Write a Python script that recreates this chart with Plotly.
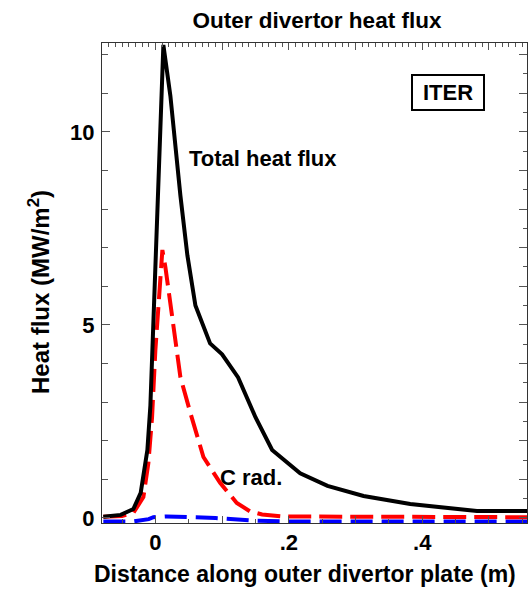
import numpy as np
import plotly.graph_objects as go

# ---- data ----
x_total = [-0.078, -0.052, -0.033, -0.022, -0.012, -0.0075, 0.012, 0.0225, 0.0375,
           0.048, 0.06, 0.082, 0.10, 0.124, 0.15, 0.175, 0.217, 0.258, 0.312,
           0.382, 0.482, 0.557]
y_total = [0.03, 0.08, 0.23, 0.65, 1.76, 2.9, 12.25, 10.93, 8.35,
           6.8, 5.5, 4.52, 4.24, 3.64, 2.61, 1.76, 1.16, 0.83, 0.57,
           0.36, 0.18, 0.18]

x_crad = [-0.078, -0.05, -0.033, -0.018, -0.0105, -0.005, 0.0, 0.005, 0.0105,
          0.015, 0.025, 0.0375, 0.0525, 0.072, 0.097, 0.122, 0.142, 0.16,
          0.19, 0.557]
y_crad = [0.03, 0.05, 0.13, 0.54, 1.42, 2.6, 4.35, 5.65, 6.94,
          6.5, 5.2, 3.65, 2.72, 1.58, 0.91, 0.39, 0.17, 0.09,
          0.04, 0.02]

x_blue = [-0.078, -0.033, -0.01, -0.003, 0.017, 0.09, 0.15, 0.2, 0.557]
y_blue = [-0.09, -0.09, -0.03, 0.02, 0.04, 0.0, -0.07, -0.09, -0.09]

x_tickvals = [0, 0.2, 0.4]
x_ticktext = ["0", ".2", ".4"]
y_tickvals = [0, 5, 10]
y_ticktext = ["0", "5", "10"]

title_text = "Outer divertor heat flux"
xlabel = "Distance along outer divertor plate (m)"
ylabel = "Heat flux (MW/m<sup>2</sup>)"
label_total = "Total heat flux"
label_crad = "C rad."
label_box = "ITER"

XR = [-0.08, 0.557]
YR = [-0.13, 12.3]
FONT = "Liberation Sans, Arial, sans-serif"
TICKC = "#555555"
LINEC = "#333333"

fig = go.Figure()
fig.add_trace(go.Scatter(x=x_blue, y=y_blue, mode="lines",
                         line=dict(color="#0000ff", width=4, dash="22px,9px"),
                         hoverinfo="skip", showlegend=False))
fig.add_trace(go.Scatter(x=x_crad, y=y_crad, mode="lines",
                         line=dict(color="#ff0000", width=4, dash="23px,8px"),
                         hoverinfo="skip", showlegend=False))
fig.add_trace(go.Scatter(x=x_total, y=y_total, mode="lines",
                         line=dict(color="#000000", width=4),
                         hoverinfo="skip", showlegend=False))
# invisible traces to anchor the extra tick axes
fig.add_trace(go.Scatter(x=[XR[0]], y=[YR[0]], xaxis="x2", yaxis="y2", mode="markers",
                         marker=dict(opacity=0), hoverinfo="skip", showlegend=False))
fig.add_trace(go.Scatter(x=[XR[0]], y=[YR[0]], xaxis="x3", yaxis="y", mode="markers",
                         marker=dict(opacity=0), hoverinfo="skip", showlegend=False))

bottom_minor = [round(v, 3) for v in np.arange(-0.05, 0.56, 0.05)]
bottom_major = [round(v, 3) for v in np.arange(0.0, 0.56, 0.1)]
top_minor = [round(v, 3) for v in np.arange(-0.07, 0.557, 0.01)]
top_major = [round(v, 3) for v in np.arange(0.0, 0.557, 0.1)]

fig.update_layout(
    width=529, height=589, autosize=False,
    margin=dict(l=102, r=2, t=43, b=66),
    plot_bgcolor="white", paper_bgcolor="white",
    font=dict(family=FONT, size=22, color="black"),
    title=dict(text="<b>" + title_text + "</b>", x=317 / 529, y=1 - 20 / 589,
               xanchor="center", yanchor="middle", xref="container",
               font=dict(family=FONT, size=22.5, color="black")),
    xaxis=dict(range=XR, showgrid=False, zeroline=False, showline=True,
               linecolor=LINEC, linewidth=1, mirror=False,
               tickmode="array", tickvals=x_tickvals,
               ticktext=["<b>" + t + "</b>" for t in x_ticktext],
               ticks="", tickfont=dict(family=FONT, size=22, color="black")),
    xaxis2=dict(range=XR, overlaying="x", side="bottom", anchor="y",
                showgrid=False, zeroline=False, showline=False, showticklabels=False,
                tickmode="array", tickvals=bottom_major, ticks="inside", ticklen=7,
                tickcolor=TICKC, tickwidth=1,
                minor=dict(tickmode="array", tickvals=bottom_minor, ticks="inside",
                           ticklen=4, tickcolor=TICKC, tickwidth=1, showgrid=False)),
    xaxis3=dict(range=XR, overlaying="x", side="top", anchor="y",
                showgrid=False, zeroline=False, showline=True, linecolor=LINEC,
                linewidth=1, showticklabels=False,
                tickmode="array", tickvals=top_major, ticks="inside", ticklen=7,
                tickcolor=TICKC, tickwidth=1,
                minor=dict(tickmode="array", tickvals=top_minor, ticks="inside",
                           ticklen=4, tickcolor=TICKC, tickwidth=1, showgrid=False)),
    yaxis=dict(range=YR, showgrid=False, zeroline=False, showline=True,
               linecolor=LINEC, linewidth=1,
               tickmode="array", tickvals=y_tickvals,
               ticktext=["<b>" + t + "</b>" for t in y_ticktext],
               ticks="inside", ticklen=8, tickcolor=TICKC, tickwidth=1,
               ticklabelstandoff=2,
               tickfont=dict(family=FONT, size=22, color="black"),
               minor=dict(tickmode="array", tickvals=list(range(0, 13)), ticks="inside",
                          ticklen=6, tickcolor=TICKC, tickwidth=1, showgrid=False)),
    yaxis2=dict(range=YR, overlaying="y", side="right", anchor="x",
                showgrid=False, zeroline=False, showline=True, linecolor=LINEC,
                linewidth=1, showticklabels=False,
                tickmode="array", tickvals=list(range(0, 13)), ticks="inside", ticklen=8,
                tickcolor=TICKC, tickwidth=1,
                minor=dict(tickmode="array", tickvals=[v + 0.5 for v in range(0, 12)],
                           ticks="inside", ticklen=4, tickcolor=TICKC, tickwidth=1,
                           showgrid=False)),
)

PW, PH, PL, PT = 425.0, 480.0, 102.0, 43.0
def px(xp):
    return (xp - PL) / PW
def py(yp):
    return (PT + PH - yp) / PH

anns = [
    dict(text="<b>" + xlabel + "</b>", x=px(305), y=py(574), size=23),
    dict(text="<b>" + ylabel + "</b>", x=px(39), y=py(292), textangle=-90, size=24),
    dict(text="<b>" + label_total + "</b>", x=px(187), y=py(158), xanchor="left", size=22),
    dict(text="<b>" + label_crad + "</b>", x=px(218), y=py(477), xanchor="left", size=22),
    dict(text="<b>" + label_box + "</b>", x=px(448), y=py(92.5), size=22),
]
for a in anns:
    a.setdefault("xanchor", "center")
    sz = a.pop("size")
    fig.add_annotation(xref="paper", yref="paper", showarrow=False, yanchor="middle",
                       font=dict(family=FONT, size=sz, color="black"), **a)

fig.add_shape(type="rect", xref="paper", yref="paper",
              x0=px(412), x1=px(484), y0=py(110), y1=py(75),
              line=dict(color="black", width=2), fillcolor="rgba(0,0,0,0)")

fig.write_html("out.html")
